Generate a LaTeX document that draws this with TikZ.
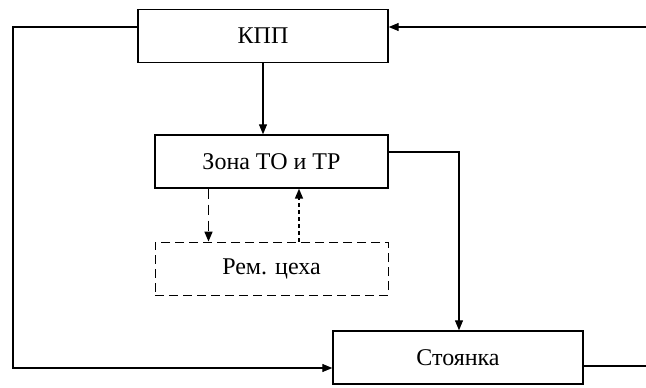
\documentclass[tikz,border=0pt]{standalone}
\usepackage{fontspec}
\setmainfont{Liberation Serif}
\usetikzlibrary{arrows.meta}
\begin{document}
\begin{tikzpicture}[x=1pt,y=-1pt,
  blk/.style={draw, line width=1.4pt, minimum width=250pt, minimum height=53pt, inner sep=0pt, font=\fontsize{24}{28}\selectfont},
  dblk/.style={blk, line width=0.9pt, dash pattern=on 9pt off 5pt},
  conn/.style={line width=1.1pt, -{Triangle[length=10pt,width=8pt]}},
  plain/.style={line width=1.1pt}]
\useasboundingbox (0,0) rectangle (646,388);
\node[blk, minimum width=250pt] (kpp) at (263,36) {КПП};
\node[blk, minimum width=233pt] (zona) at (271.5,161.5) {Зона ТО и ТР};
\node[dblk, minimum width=233pt] (rem) at (271.5,268.5) {Рем. цеха};
\node[blk, minimum width=250pt] (st) at (458,357.5) {Стоянка};
\coordinate (tr) at (646,27);
\coordinate (br) at (646,366);
\coordinate (l1) at (13,27);
\coordinate (l2) at (13,368);
\coordinate (z1) at (459,152);
% KPP -> Zona
\draw[conn] (kpp.south) -- (kpp.south |- zona.north);
% right incoming to KPP
\draw[conn] (tr) -- (tr -| kpp.east);
% left loop KPP -> Stoyanka
\draw[conn] (l1 -| kpp.west) -- (l1) -- (l2) -- (l2 -| st.west);
% Zona -> Stoyanka
\draw[conn] (z1 -| zona.east) -- (z1) -- (z1 |- st.north);
% Stoyanka right outgoing
\draw[plain] (br -| st.east) -- (br);
% Zona <-> Rem
\draw[conn, line width=1.6pt, dash pattern=on 10pt off 6pt] ([xshift=-63pt]zona.south) -- ([xshift=-63pt]rem.north);
\draw[conn, line width=1.6pt, dash pattern=on 4pt off 3pt] ([xshift=27.5pt]rem.north) -- ([xshift=27.5pt]zona.south);
\end{tikzpicture}
\end{document}
